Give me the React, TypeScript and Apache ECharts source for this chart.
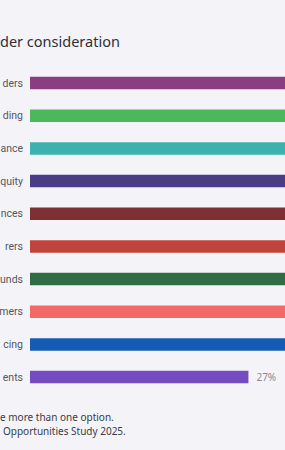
import React, { useEffect, useRef } from "react";
import * as echarts from "echarts";

const categories = ["ders", "ding", "ance", "quity", "nces", "rers", "unds", "mers", "cing", "ents"];
const values = [58, 52, 49, 45, 41, 38, 36, 34, 33, 27];
const colors = ["#8a3e80", "#4cb85c", "#3db1ae", "#4a3d86", "#7e3134", "#c0443b", "#2f6b45", "#f26a66", "#165cb4", "#744bc0"];
const titleText = "der consideration";
const noteLines = ["e more than one option.", "Opportunities Study 2025."];

const AXIS_MAX = 100;
const GRID_LEFT = 30;
const GRID_WIDTH = 809;
const VIEW_WIDTH = 285;
// values whose end (plus label) still lies inside the visible window
const visibleLimit = ((VIEW_WIDTH - GRID_LEFT - 36) / GRID_WIDTH) * AXIS_MAX;

export default function App() {
  const ref = useRef<HTMLDivElement>(null);
  useEffect(() => {
    if (!ref.current) return;
    const chart = echarts.init(ref.current, null, { renderer: "svg" });
    chart.setOption({
      animation: false,
      backgroundColor: "#f4f4f8",
      grid: {
        left: GRID_LEFT,
        top: 66.7,
        width: GRID_WIDTH,
        height: 326.7,
        containLabel: false,
        outerBoundsMode: "none",
      },
      xAxis: {
        type: "value",
        min: 0,
        max: AXIS_MAX,
        show: false,
        splitLine: { show: false },
      },
      yAxis: {
        type: "category",
        inverse: true,
        data: categories,
        axisLine: { show: false },
        axisTick: { show: false },
        axisLabel: { margin: 7, fontSize: 10.5, color: "#555560", fontFamily: "Roboto" },
      },
      series: [
        {
          type: "bar",
          barWidth: 12.5,
          data: values.map((v, i) => ({
            value: v,
            itemStyle: { color: colors[i] },
            label: { show: v <= visibleLimit },
          })),
          label: {
            show: false,
            position: "right",
            distance: 8,
            formatter: "{c}%",
            fontSize: 10,
            color: "#8a8a92",
            fontFamily: "Noto Sans",
          },
        },
      ],
      graphic: [
        {
          type: "text",
          left: 0,
          top: 33,
          style: { text: titleText, fontSize: 14.5, fill: "#2e2e38", fontFamily: "Noto Sans" },
        },
        {
          type: "text",
          left: 0,
          top: 412,
          style: { text: noteLines[0], fontSize: 10, fill: "#3a3a44", fontFamily: "Noto Sans" },
        },
        {
          type: "text",
          left: 3,
          top: 426,
          style: { text: noteLines[1], fontSize: 10, fill: "#3a3a44", fontFamily: "Noto Sans" },
        },
      ],
    });
    return () => chart.dispose();
  }, []);
  return (
    <div
      ref={ref}
      style={{ position: "absolute", left: 0, top: 0, width: 285, height: 450 }}
    />
  );
}
